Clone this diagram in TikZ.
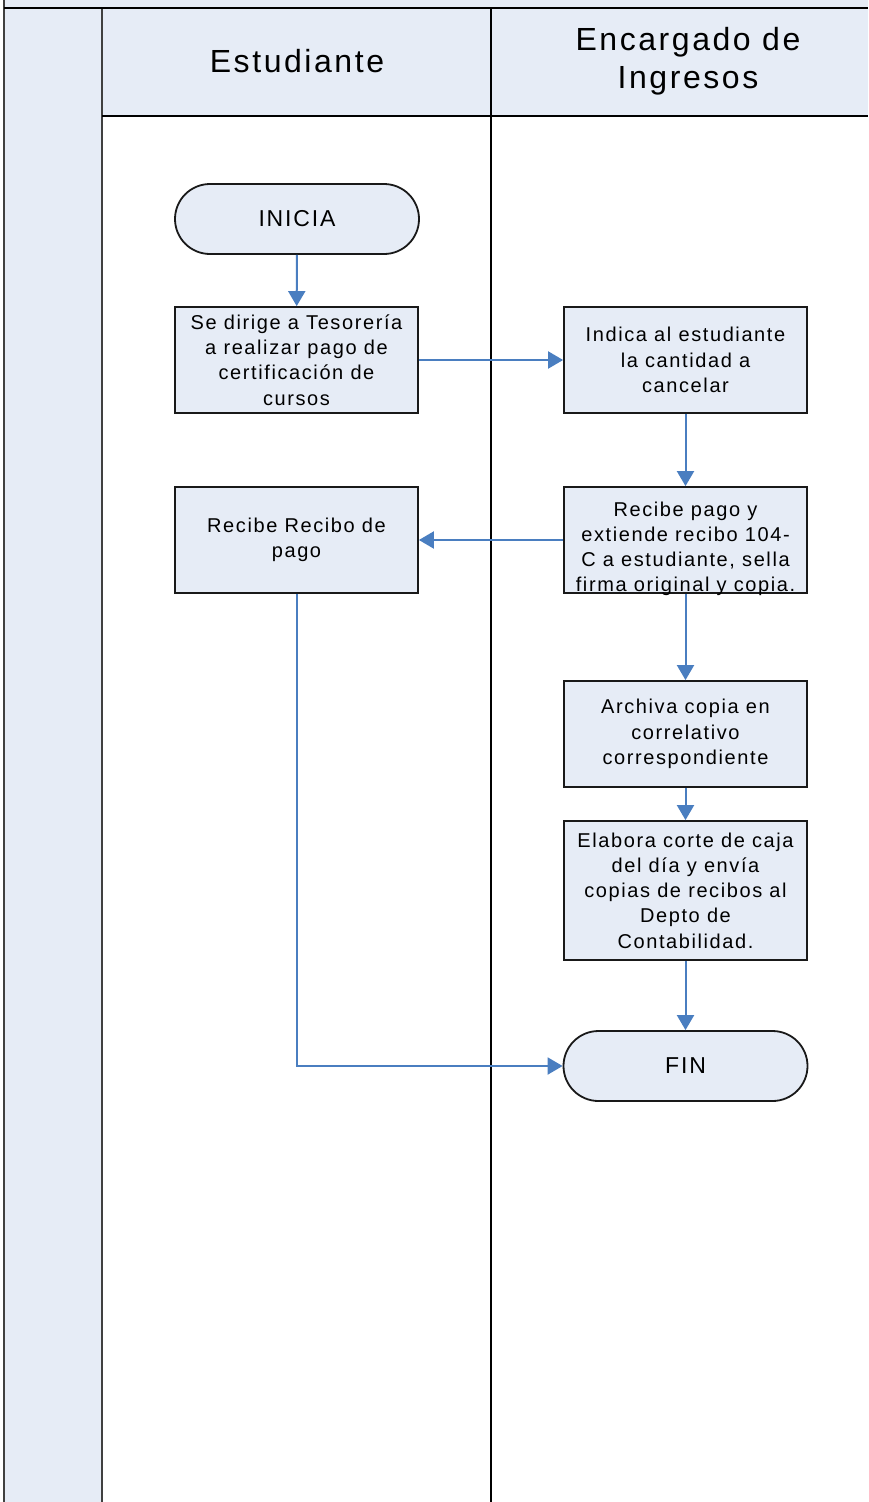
\documentclass[tikz,border=0pt]{standalone}
\usepackage{fontspec}
\setmainfont{Liberation Sans}[LetterSpace=8]
\usetikzlibrary{arrows.meta}
\definecolor{lanefill}{RGB}{230,236,246}
\definecolor{flowblue}{RGB}{74,126,192}
\definecolor{frameline}{RGB}{64,64,64}
\begin{document}
\begin{tikzpicture}[x=1pt,y=-1pt,
  stepbox/.style={draw=black!90, line width=1.8pt, fill=lanefill,
    minimum width=243pt, minimum height=106pt, inner sep=0pt,
    align=center, font=\fontsize{20}{25.3}\selectfont},
  termbox/.style={draw=black!90, line width=1.8pt, fill=lanefill,
    minimum width=244pt, minimum height=70pt, rounded corners=35pt,
    inner sep=0pt, font=\fontsize{23}{27}\selectfont},
  flow/.style={draw=flowblue, line width=2pt,
    -{Triangle[length=15pt,width=17pt]}},
  lanehead/.style={align=center, font=\fontsize{32}{38}\selectfont}]

\useasboundingbox (0,0) rectangle (868,1502);

% swimlane frame
\fill[lanefill] (4,0) rectangle (868,8);
\fill[lanefill] (4,8) rectangle (102,1502);
\fill[lanefill] (102,8) rectangle (868,116);
\draw[frameline, line width=2pt] (4,0) -- (4,1502);
\draw[frameline, line width=2pt] (102,8) -- (102,1502);
\draw[black, line width=2pt] (4,8) -- (868,8);
\draw[black, line width=2pt] (102,116) -- (868,116);
\draw[black, line width=2pt] (491,8) -- (491,1502);

% lane headers
\node[lanehead] (h1) at (297,61) {Estudiante};
\node[lanehead] (h2) at (688,61) {Encargado de\\Ingresos};

% flow steps
\node[termbox] (start) at (297,219) {INICIA};
\node[stepbox] (b1) at (296.5,360) {Se dirige a Tesorería\\a realizar pago de\\certificación de\\cursos};
\node[stepbox] (b2) at (685.5,360) {Indica al estudiante\\la cantidad a\\cancelar};
\node[stepbox] (b3) at (685.5,540) {\raisebox{-14pt}[0pt][0pt]{\makebox[0pt]{\parbox{260pt}{\centering Recibe pago y\\extiende recibo 104-\\C a estudiante, sella\\firma original y copia.}}}};
\node[stepbox] (b4) at (296.5,540) {Recibe Recibo de\\pago};
\node[stepbox] (b5) at (685.5,734) {Archiva copia en\\correlativo\\correspondiente};
\node[stepbox, minimum height=139pt] (b6) at (685.5,890.5) {Elabora corte de caja\\del día y envía\\copias de recibos al\\Depto de\\Contabilidad.};
\node[termbox] (fin) at (685.5,1066) {FIN};

% connectors
\draw[flow] (start) -- (b1);
\draw[flow] (b1) -- (b2);
\draw[flow] (b2) -- (b3);
\draw[flow] (b3) -- (b4);
\draw[flow] (b3) -- (b5);
\draw[flow] (b5) -- (b6);
\draw[flow] (b6) -- (fin);
\draw[flow] (b4.south) |- (fin.west);
\end{tikzpicture}
\end{document}
